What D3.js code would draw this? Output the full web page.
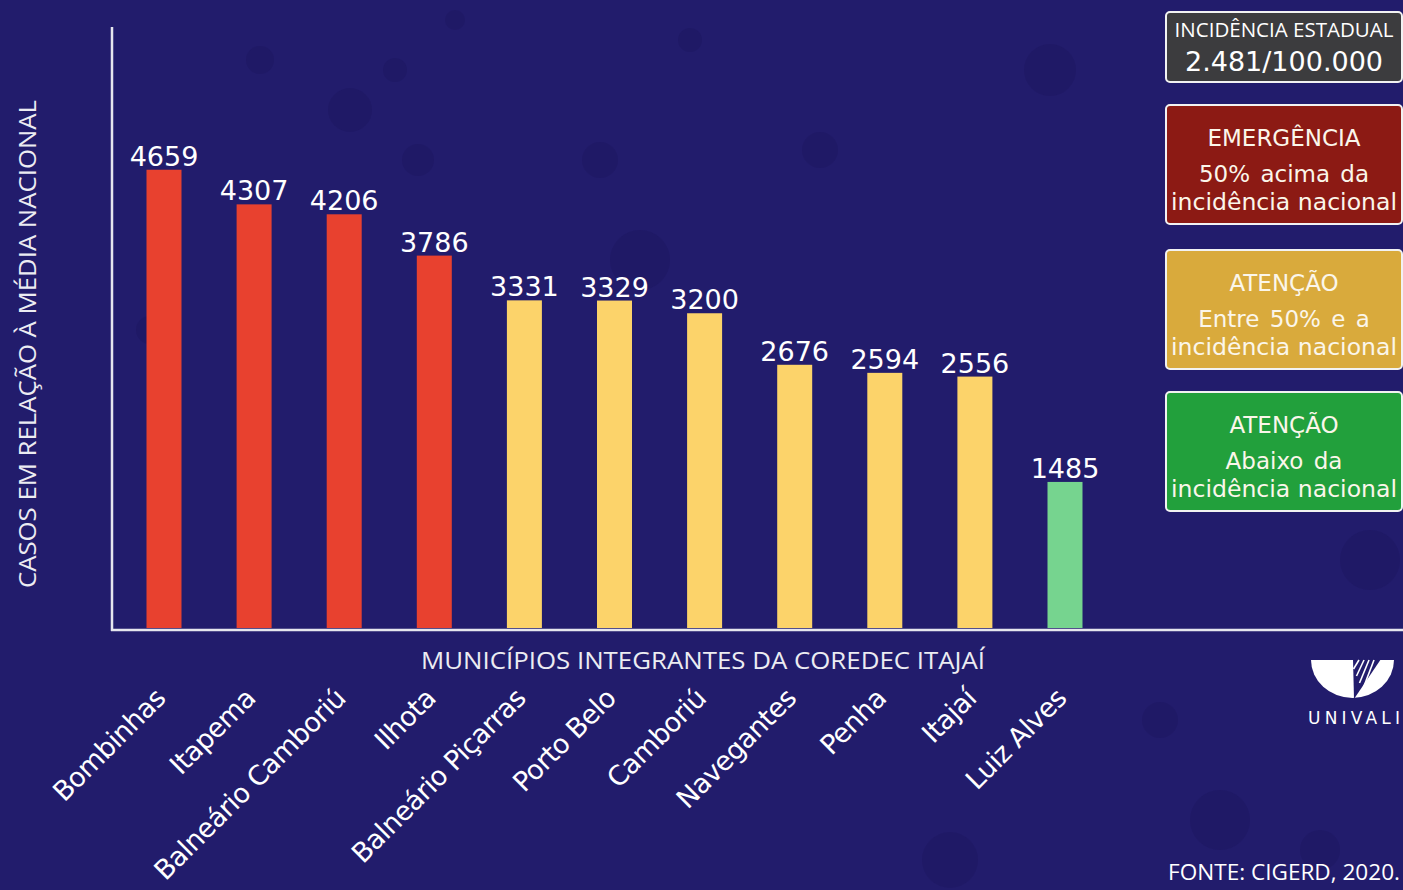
<!DOCTYPE html>
<html>
<head>
<meta charset="utf-8">
<script src="https://cdn.jsdelivr.net/npm/d3@7"></script>
<style>
  html, body { margin: 0; padding: 0; background: #221c6c; }
  svg { display: block; }
</style>
</head>
<body>
<svg id="chart" width="1403" height="890"></svg>
<script>
// dados
const municipios = ['Bombinhas', 'Itapema', 'Balneário Camboriú', 'Ilhota', 'Balneário Piçarras',
    'Porto Belo', 'Camboriú', 'Navegantes', 'Penha', 'Itajaí', 'Luiz Alves'];
const casos = [4659, 4307, 4206, 3786, 3331, 3329, 3200, 2676, 2594, 2556, 1485];
const nivel = ['emergencia', 'emergencia', 'emergencia', 'emergencia', 'atencao', 'atencao',
    'atencao', 'atencao', 'atencao', 'atencao', 'abaixo'];

const legendaTitulos = ['EMERGÊNCIA', 'ATENÇÃO', 'ATENÇÃO'];
const legendaLinha1 = ['50% acima da', 'Entre 50% e a', 'Abaixo da'];
const legendaLinha2 = ['incidência nacional', 'incidência nacional', 'incidência nacional'];
const legendaCores = ['#8c1a14', '#d9aa3c', '#22a03c'];

const corBarra = { emergencia: '#e8412f', atencao: '#fcd36a', abaixo: '#76d48f' };

const svg = d3.select('#chart');
const width = +svg.attr('width');
const height = +svg.attr('height');

// fundo
svg.append('rect').attr('width', width).attr('height', height).attr('fill', '#221c6c');
const bolhas = [[260, 60, 14], [350, 110, 22], [395, 70, 12], [418, 160, 16], [455, 20, 10],
    [600, 160, 18], [640, 260, 30], [690, 40, 12], [820, 150, 18], [1050, 70, 26], [1220, 820, 30],
    [1320, 850, 20], [1160, 720, 18], [1370, 560, 30], [950, 860, 28], [150, 330, 14]];
svg.append('g').selectAll('circle')
    .data(bolhas)
    .enter().append('circle')
    .attr('cx', b => b[0]).attr('cy', b => b[1]).attr('r', b => b[2])
    .attr('fill', '#1a155a').attr('opacity', 0.3);

const x = d3.scalePoint().domain(municipios).range([164, 1065]);
const y = d3.scaleLinear().domain([0, 6100]).range([628, 28]);
const barW = 35;

// eixos
svg.append('line')
    .attr('x1', 112).attr('x2', 112).attr('y1', 27).attr('y2', 631)
    .attr('stroke', '#e6e6ee').attr('stroke-width', 2.5);
svg.append('line')
    .attr('x1', 111).attr('x2', width).attr('y1', 630).attr('y2', 630)
    .attr('stroke', '#e6e6ee').attr('stroke-width', 2.5);

// barras
svg.append('g')
    .selectAll('rect')
    .data(municipios)
    .enter().append('rect')
    .attr('x', m => x(m) - barW / 2)
    .attr('width', barW)
    .attr('y', (m, i) => y(casos[i]))
    .attr('height', (m, i) => y(0) - y(casos[i]))
    .attr('fill', (m, i) => corBarra[nivel[i]]);

// valores
svg.append('g')
    .selectAll('text')
    .data(municipios)
    .enter().append('text')
    .attr('x', m => x(m))
    .attr('y', (m, i) => y(casos[i]) - 4)
    .attr('text-anchor', 'middle')
    .attr('fill', '#ffffff')
    .style('font-family', 'DejaVu Sans')
    .style('font-size', '27px')
    .text((m, i) => casos[i]);

// rótulos dos municípios
svg.append('g')
    .selectAll('text')
    .data(municipios)
    .enter().append('text')
    .attr('transform', m => `translate(${x(m) + 3},${700}) rotate(-45)`)
    .attr('text-anchor', 'end')
    .attr('fill', '#ffffff')
    .style('font-family', 'DejaVu Sans')
    .style('font-size', '27px')
    .style('letter-spacing', '-0.6px')
    .text(m => m);

// títulos dos eixos
svg.append('text')
    .attr('transform', 'translate(36,344) rotate(-90)')
    .attr('text-anchor', 'middle')
    .attr('fill', '#ececf2')
    .attr('textLength', 488)
    .attr('lengthAdjust', 'spacingAndGlyphs')
    .style('font-family', 'Open Sans')
    .style('font-size', '24px')
    .text('CASOS EM RELAÇÃO À MÉDIA NACIONAL');

svg.append('text')
    .attr('x', 703).attr('y', 669)
    .attr('text-anchor', 'middle')
    .attr('fill', '#ececf2')
    .attr('textLength', 564)
    .attr('lengthAdjust', 'spacingAndGlyphs')
    .style('font-family', 'Open Sans')
    .style('font-size', '24px')
    .text('MUNICÍPIOS INTEGRANTES DA COREDEC ITAJAÍ');

// caixa da incidência estadual
const caixaX = 1166, caixaW = 236;
svg.append('rect')
    .attr('x', caixaX).attr('y', 12).attr('width', caixaW).attr('height', 70).attr('rx', 4)
    .attr('fill', '#3c3c3e').attr('stroke', '#f2f2f2').attr('stroke-width', 2);
svg.append('text')
    .attr('x', caixaX + caixaW / 2).attr('y', 37)
    .attr('text-anchor', 'middle').attr('fill', '#ffffff')
    .style('font-family', 'Open Sans').style('font-size', '20.5px')
    .text('INCIDÊNCIA ESTADUAL');
svg.append('text')
    .attr('x', caixaX + caixaW / 2).attr('y', 71)
    .attr('text-anchor', 'middle').attr('fill', '#ffffff')
    .style('font-family', 'DejaVu Sans').style('font-size', '27px')
    .text('2.481/100.000');

// legenda
const legTop = [105, 250, 392];
const leg = svg.append('g')
    .selectAll('g')
    .data(legendaTitulos)
    .enter().append('g')
    .attr('transform', (t, i) => `translate(${caixaX},${legTop[i]})`);

leg.append('rect')
    .attr('width', caixaW).attr('height', 119).attr('rx', 4)
    .attr('fill', (t, i) => legendaCores[i])
    .attr('stroke', '#f2f2f2').attr('stroke-width', 2);

leg.append('text')
    .attr('x', caixaW / 2).attr('y', 41)
    .attr('text-anchor', 'middle').attr('fill', '#fbf6ea')
    .style('font-family', 'DejaVu Sans').style('font-size', '23px')
    .text(t => t);
leg.append('text')
    .attr('x', caixaW / 2).attr('y', 77)
    .attr('text-anchor', 'middle').attr('fill', '#fbf6ea')
    .style('font-family', 'DejaVu Sans').style('font-size', '23px')
    .style('word-spacing', '3px')
    .text((t, i) => legendaLinha1[i]);
leg.append('text')
    .attr('x', caixaW / 2).attr('y', 105)
    .attr('text-anchor', 'middle').attr('fill', '#fbf6ea')
    .style('font-family', 'DejaVu Sans').style('font-size', '23px')
    .attr('textLength', 226)
    .attr('lengthAdjust', 'spacingAndGlyphs')
    .text((t, i) => legendaLinha2[i]);

// logo univali
const logo = svg.append('g');
logo.append('path')
    .attr('d', 'M1311,660 L1394,660 A41.5,38 0 0 1 1311,660 Z')
    .attr('fill', '#ffffff');
logo.append('path')
    .attr('d', 'M1353,659 L1381,659 L1354,699 Z')
    .attr('fill', '#221c6c');
for (let k = 0; k < 4; k++) {
    logo.append('line')
        .attr('x1', 1359 + k * 5).attr('y1', 660)
        .attr('x2', 1353.5 + k * 3).attr('y2', 669 + k * 7)
        .attr('stroke', '#ffffff').attr('stroke-width', 1.6);
}
logo.append('text')
    .attr('x', 1354).attr('y', 724)
    .attr('text-anchor', 'middle').attr('fill', '#ffffff')
    .attr('textLength', 92)
    .attr('lengthAdjust', 'spacing')
    .style('font-family', 'DejaVu Sans').style('font-size', '17px')
    .text('UNIVALI');

// fonte
svg.append('text')
    .attr('x', 1400).attr('y', 880)
    .attr('text-anchor', 'end').attr('fill', '#ffffff')
    .attr('textLength', 232)
    .attr('lengthAdjust', 'spacingAndGlyphs')
    .style('font-family', 'Open Sans').style('font-size', '22.5px')
    .text('FONTE: CIGERD, 2020.');
</script>
</body>
</html>
